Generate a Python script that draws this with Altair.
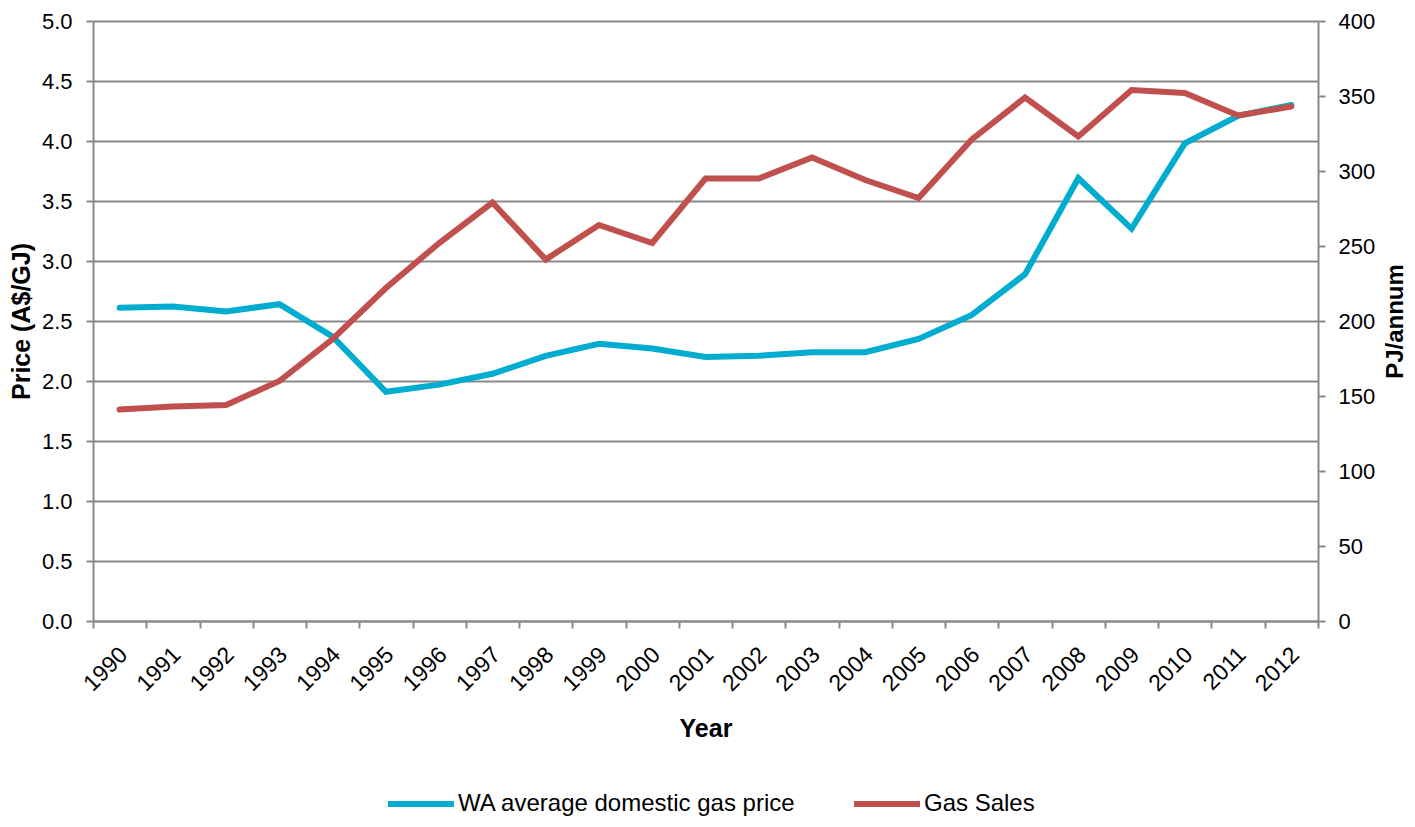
import altair as alt
import pandas as pd

years = [str(y) for y in range(1990, 2013)]
price = [2.61, 2.62, 2.58, 2.64, 2.37, 1.91, 1.97, 2.06, 2.21, 2.31, 2.27, 2.20,
         2.21, 2.24, 2.24, 2.35, 2.55, 2.89, 3.69, 3.27, 3.98, 4.21, 4.30]
sales = [141, 143, 144, 160, 188, 222, 252, 279, 241, 264, 252, 295,
         295, 309, 294, 282, 321, 349, 323, 354, 352, 337, 343]
left_ticks = [0, 0.5, 1.0, 1.5, 2.0, 2.5, 3.0, 3.5, 4.0, 4.5, 5.0]
right_ticks = [0, 50, 100, 150, 200, 250, 300, 350, 400]
series = ["WA average domestic gas price", "Gas Sales"]
colors = ["#00acd0", "#c0504d"]

df = pd.DataFrame({"Year": years, "price": price, "sales": sales})

FONT = "Liberation Sans"
GREY = "#898989"
PW, PH = 1225, 600

x_enc = alt.X(
    "Year:O",
    bandPosition=0.5,
    scale=alt.Scale(type="band", paddingInner=0, paddingOuter=0),
    axis=alt.Axis(
        title="Year", labelAngle=-45, tickBand="extent", tickSize=7,
        labelFontSize=23, labelFont=FONT, labelColor="#000", labelOffset=-4,
        titleFontSize=25, titleFont=FONT, titleFontWeight="bold", titleColor="#000",
        titleX=PW / 2, titleY=107, titleBaseline="middle",
        domainColor=GREY, domainWidth=2, tickColor=GREY, tickWidth=2, grid=False,
        labelPadding=15,
    ),
)

color_enc = alt.Color("series:N", scale=alt.Scale(domain=series, range=colors),
                      legend=alt.Legend(title=None))

base = alt.Chart(df)

price_line = base.transform_calculate(series=f"'{series[0]}'").mark_line(
    strokeWidth=6, strokeCap="round").encode(
    x=x_enc,
    y=alt.Y(
        "price:Q",
        scale=alt.Scale(domain=[0, 5]),
        axis=alt.Axis(
            title="Price (A$/GJ)", values=left_ticks, format=".1f", grid=True,
            gridColor=GREY, gridWidth=2, domainColor=GREY, domainWidth=2,
            tickColor=GREY, tickWidth=2, tickSize=7, labelPadding=14,
            labelFontSize=22, labelFont=FONT, labelColor="#000",
            titleFontSize=25, titleFont=FONT, titleFontWeight="bold", titleColor="#000",
            titleX=-72, titleY=PH / 2, titleAngle=270, titleBaseline="middle",
            titleAlign="center",
        ),
    ),
    color=color_enc,
)

sales_line = base.transform_calculate(series=f"'{series[1]}'").mark_line(
    strokeWidth=6, strokeCap="round").encode(
    x=x_enc,
    y=alt.Y(
        "sales:Q",
        scale=alt.Scale(domain=[0, 400]),
        axis=alt.Axis(
            orient="right", title="PJ/annum", values=right_ticks, grid=False,
            domainColor=GREY, domainWidth=2, tickColor=GREY, tickWidth=2, tickSize=7,
            labelPadding=13, labelFontSize=22, labelFont=FONT, labelColor="#000",
            titleFontSize=24, titleFont=FONT, titleFontWeight="bold", titleColor="#000",
            titleX=77, titleY=PH / 2, titleAngle=270, titleBaseline="middle",
            titleAlign="center",
        ),
    ),
    color=color_enc,
)

chart = alt.layer(price_line, sales_line).resolve_scale(
    y="independent"
).properties(
    width=PW, height=PH,
    autosize=alt.AutoSizeParams(type="none"),
    padding={"left": 85, "top": 13, "right": 89, "bottom": 198},
).configure_view(stroke=None).configure_legend(
    orient="none", legendX=292, legendY=747, direction="horizontal",
    symbolType="stroke", symbolStrokeWidth=6, symbolSize=4356,
    labelFontSize=24, labelFont=FONT, labelColor="#000", labelLimit=0,
    columnPadding=46, labelOffset=1, padding=0,
)

chart.save("out.html", embed_options={"renderer": "svg", "actions": False})
